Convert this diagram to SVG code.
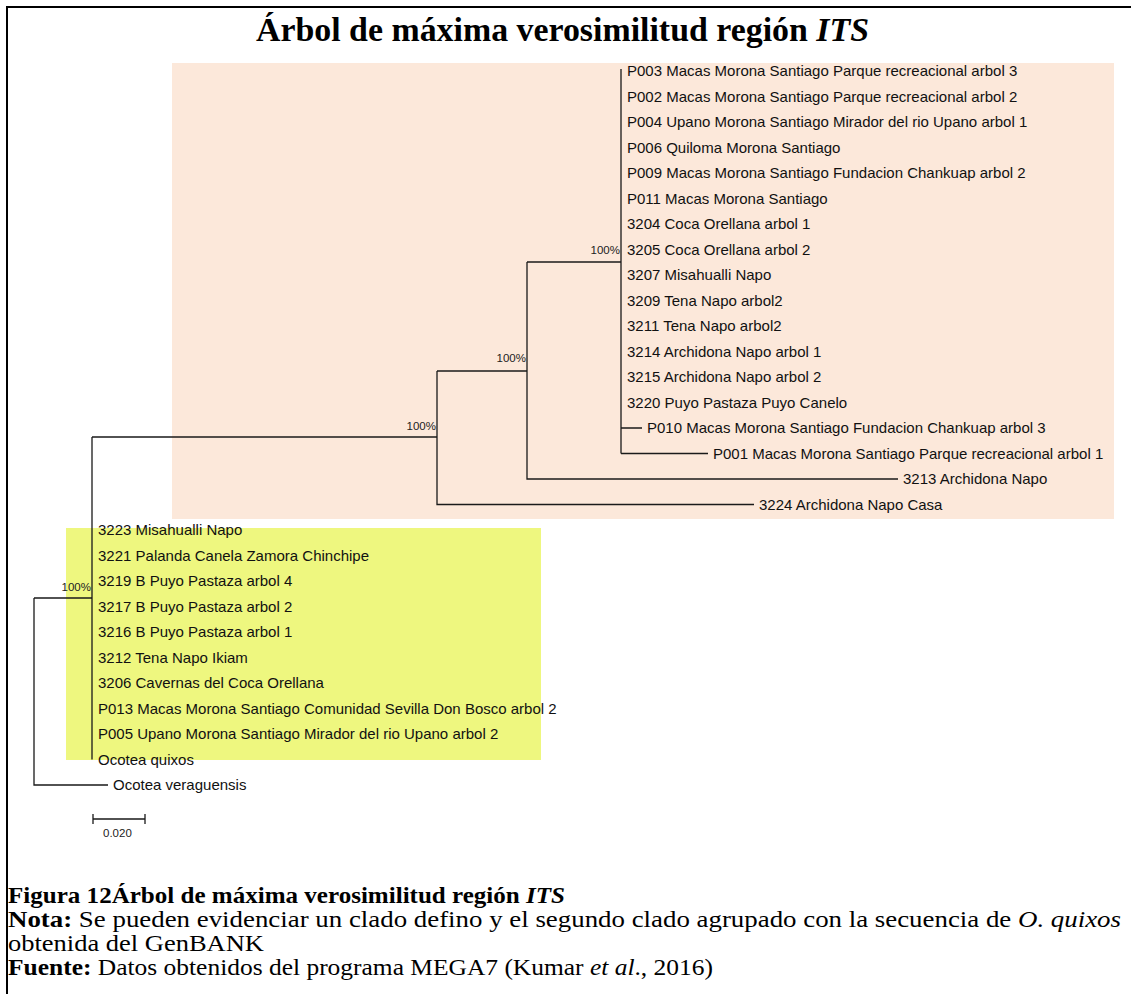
<svg xmlns="http://www.w3.org/2000/svg" width="1131" height="994" viewBox="0 0 1131 994">
<style>
.lbl{font-family:"Liberation Sans",Arial,sans-serif;font-size:15px;fill:#111}
.bs{font-family:"Liberation Sans",Arial,sans-serif;font-size:11.5px;fill:#222}
.br{stroke:#1a1a1a;stroke-width:1.3;fill:none}
.cap{font-family:"Liberation Serif","Times New Roman",serif;font-size:23px;fill:#000}
</style>
<rect x="0" y="0" width="1131" height="994" fill="#fff"/>
<path d="M6 7H1131M7 6V994" stroke="#000" stroke-width="2" fill="none"/>
<text x="256" y="41" textLength="613" lengthAdjust="spacingAndGlyphs" style="font-family:'Liberation Serif','Times New Roman',serif;font-size:33px;font-weight:bold">Árbol de máxima verosimilitud región <tspan font-style="italic">ITS</tspan></text>
<rect id="clado1" x="172" y="63" width="942" height="456" fill="#FCE8DA"/>
<rect id="clado2" x="66" y="528" width="475" height="232" fill="#EEF77F"/>
<g id="connectors" class="br">
<path d="M621 69V453.5M621 428H642M621 453.5H708"/>
<path d="M527 262H621M527 262V479H898"/>
<path d="M437 371H527M437 371V504.5H754"/>
<path d="M92 437H437M92 437V759.5"/>
<path d="M34 598H92M34 598V785H108"/>
<path d="M93 819H145M93 814V824M145 814V824"/>
</g>
<g id="bootstrap" class="bs" text-anchor="end">
<text x="620" y="254">100%</text>
<text x="526" y="362">100%</text>
<text x="436" y="430">100%</text>
<text x="91" y="591">100%</text>
</g>
<g id="leaves" class="lbl">
<text id="n1" x="627" y="76">P003 Macas Morona Santiago Parque recreacional arbol 3</text>
<text id="n2" x="627" y="101.5">P002 Macas Morona Santiago Parque recreacional arbol 2</text>
<text id="n3" x="627" y="127">P004 Upano Morona Santiago Mirador del rio Upano arbol 1</text>
<text id="n4" x="627" y="152.5">P006 Quiloma Morona Santiago</text>
<text id="n5" x="627" y="178">P009 Macas Morona Santiago Fundacion Chankuap arbol 2</text>
<text id="n6" x="627" y="203.5">P011 Macas Morona Santiago</text>
<text id="n7" x="627" y="229">3204 Coca Orellana arbol 1</text>
<text id="n8" x="627" y="254.5">3205 Coca Orellana arbol 2</text>
<text id="n9" x="627" y="280">3207 Misahualli Napo</text>
<text id="n10" x="627" y="305.5">3209 Tena Napo arbol2</text>
<text id="n11" x="627" y="331">3211 Tena Napo arbol2</text>
<text id="n12" x="627" y="356.5">3214 Archidona Napo arbol 1</text>
<text id="n13" x="627" y="382">3215 Archidona Napo arbol 2</text>
<text id="n14" x="627" y="407.5">3220 Puyo Pastaza Puyo Canelo</text>
<text id="n15" x="647" y="433">P010 Macas Morona Santiago Fundacion Chankuap arbol 3</text>
<text id="n16" x="713" y="458.5">P001 Macas Morona Santiago Parque recreacional arbol 1</text>
<text id="n17" x="903" y="484">3213 Archidona Napo</text>
<text id="n18" x="759" y="509.5">3224 Archidona Napo Casa</text>
<text id="n19" x="98" y="535">3223 Misahualli Napo</text>
<text id="n20" x="98" y="560.5">3221 Palanda Canela Zamora Chinchipe</text>
<text id="n21" x="98" y="586">3219 B Puyo Pastaza arbol 4</text>
<text id="n22" x="98" y="611.5">3217 B Puyo Pastaza arbol 2</text>
<text id="n23" x="98" y="637">3216 B Puyo Pastaza arbol 1</text>
<text id="n24" x="98" y="662.5">3212 Tena Napo Ikiam</text>
<text id="n25" x="98" y="688">3206 Cavernas del Coca Orellana</text>
<text id="n26" x="98" y="713.5">P013 Macas Morona Santiago Comunidad Sevilla Don Bosco arbol 2</text>
<text id="n27" x="98" y="739">P005 Upano Morona Santiago Mirador del rio Upano arbol 2</text>
<text id="n28" x="98" y="764.5">Ocotea quixos</text>
<text id="n29" x="113" y="790">Ocotea veraguensis</text>
</g>
<text class="bs" x="103" y="837">0.020</text>
<g id="caption" class="cap">
<text x="8" y="903" font-weight="bold" textLength="557" lengthAdjust="spacingAndGlyphs">Figura 12Árbol de máxima verosimilitud región <tspan font-style="italic">ITS</tspan></text>
<text x="8" y="927" textLength="1113" lengthAdjust="spacingAndGlyphs"><tspan font-weight="bold">Nota:</tspan> Se pueden evidenciar un clado defino y el segundo clado agrupado con la secuencia de <tspan font-style="italic">O. quixos</tspan></text>
<text x="8" y="951" textLength="256" lengthAdjust="spacingAndGlyphs">obtenida del GenBANK</text>
<text x="8" y="975" textLength="705" lengthAdjust="spacingAndGlyphs"><tspan font-weight="bold">Fuente:</tspan> Datos obtenidos del programa MEGA7 (Kumar <tspan font-style="italic">et al</tspan>., 2016)</text>
</g>
</svg>
